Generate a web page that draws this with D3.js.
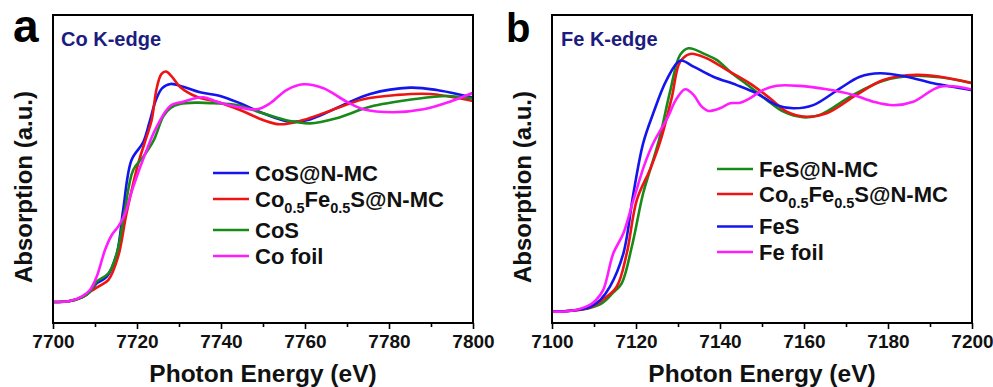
<!DOCTYPE html>
<html>
<head>
<meta charset="utf-8">
<script src="https://cdn.jsdelivr.net/npm/d3@7/dist/d3.min.js"></script>
<style>
  body { margin: 0; background: #fff; }
  svg { display: block; font-family: "Liberation Sans", Arial, sans-serif; }
</style>
</head>
<body>
<div id="chart"></div>
<script>
// =======================
// Data: [photon energy (eV), normalized absorption]
// =======================
const coCoSNMC = [
  [7700, 0], [7704, 0.005], [7707, 0.025], [7708.8, 0.052], [7710.4, 0.095],
  [7712.8, 0.128], [7715.2, 0.247], [7716.7, 0.467], [7718.7, 0.721], [7721.5, 0.812],
  [7723, 0.914], [7724.5, 1.025], [7726, 1.086], [7728, 1.107], [7731, 1.093],
  [7735, 1.065], [7739.8, 1.046], [7744.5, 1.009], [7750, 0.958], [7756.4, 0.915],
  [7761.2, 0.927], [7769.1, 1.0], [7775.5, 1.056], [7785, 1.088], [7791.4, 1.076],
  [7800, 1.038]
];
const coCoFeS = [
  [7700, 0], [7704, 0.005], [7707, 0.025], [7708.8, 0.052], [7710.8, 0.078],
  [7713.2, 0.112], [7715.5, 0.230], [7717.5, 0.450], [7720.3, 0.704], [7722.3, 0.839],
  [7723.5, 0.924], [7724.7, 1.086], [7725.8, 1.157], [7726.9, 1.170], [7728.2, 1.147],
  [7730.2, 1.093], [7734.2, 1.042], [7739, 1.017], [7744.5, 0.975], [7750, 0.924],
  [7754, 0.902], [7759.6, 0.924], [7766, 0.971], [7773.9, 1.029], [7781.8, 1.051],
  [7789.8, 1.056], [7800, 1.020]
];
const coCoS = [
  [7700, 0], [7704, 0.005], [7707, 0.025], [7708.8, 0.052], [7710.4, 0.103],
  [7713.2, 0.146], [7715.2, 0.247], [7717.1, 0.467], [7719.1, 0.670], [7721.5, 0.738],
  [7724, 0.822], [7726.3, 0.944], [7728, 0.985], [7730.2, 1.005], [7734.2, 1.012],
  [7738.2, 1.009], [7743.7, 1.0], [7750, 0.958], [7756.4, 0.919], [7761.2, 0.907],
  [7767.5, 0.933], [7775.5, 0.991], [7785.8, 1.029], [7793.7, 1.046], [7800, 1.033]
];
const coFoil = [
  [7700, 0], [7704, 0.005], [7707, 0.030], [7708.8, 0.061], [7710.4, 0.128],
  [7712.4, 0.265], [7714, 0.340], [7715.6, 0.385], [7717, 0.440], [7719.1, 0.585],
  [7722.3, 0.772], [7724.7, 0.890], [7727.9, 0.995], [7731, 1.017], [7735.8, 1.039],
  [7739, 1.017], [7743.7, 0.991], [7748.5, 0.978], [7751.7, 1.009], [7755.6, 1.076],
  [7759.6, 1.105], [7764.4, 1.085], [7769.9, 1.017], [7773.9, 0.978], [7781, 0.963],
  [7788.2, 0.978], [7794.5, 1.017], [7800, 1.062]
];

const feFeSNMC = [
  [7100, 0], [7105, 0.006], [7109, 0.019], [7112, 0.044], [7114.5, 0.094],
  [7116.6, 0.142], [7119, 0.325], [7121.7, 0.592], [7123.5, 0.719], [7125.5, 0.859],
  [7128.1, 1.099], [7130.5, 1.284], [7132.5, 1.317], [7136.8, 1.284], [7139.2, 1.259],
  [7142.4, 1.200], [7147.1, 1.125], [7151.1, 1.059], [7155.1, 1.0], [7159.8, 0.972],
  [7163.8, 0.984], [7171.7, 1.084], [7178.9, 1.155], [7186, 1.180], [7192.4, 1.172],
  [7200, 1.142]
];
const feCoFeS = [
  [7100, 0], [7105, 0.006], [7109, 0.021], [7112, 0.059], [7115.4, 0.125],
  [7117.8, 0.292], [7120.2, 0.559], [7123.5, 0.719], [7126, 0.867], [7128.5, 1.069],
  [7130.5, 1.249], [7132.9, 1.289], [7136.8, 1.267], [7141.6, 1.209], [7147.1, 1.142],
  [7151.9, 1.067], [7155.9, 1.0], [7160.6, 0.975], [7165.4, 0.992], [7172.5, 1.084],
  [7178.9, 1.159], [7186.8, 1.184], [7192.4, 1.175], [7200, 1.144]
];
const feFeS = [
  [7100, 0], [7105, 0.006], [7109, 0.023], [7111.5, 0.059], [7113.8, 0.125],
  [7117, 0.292], [7119.4, 0.594], [7121.7, 0.842], [7124.1, 0.992], [7127.3, 1.159],
  [7130.5, 1.255], [7133.7, 1.225], [7138.4, 1.175], [7144, 1.133], [7148.7, 1.092],
  [7153.5, 1.033], [7157.5, 1.017], [7162.2, 1.033], [7168.6, 1.117], [7173.3, 1.175],
  [7178.1, 1.192], [7184.4, 1.175], [7190.8, 1.142], [7200, 1.108]
];
const feFoil = [
  [7100, 0], [7105, 0.006], [7109, 0.034], [7110.5, 0.059], [7112.2, 0.109],
  [7114.6, 0.292], [7117, 0.392], [7119.4, 0.559], [7122, 0.734], [7124.1, 0.842],
  [7127.5, 0.969], [7129.5, 1.059], [7131.7, 1.112], [7133.7, 1.084], [7135.5, 1.029],
  [7137.2, 1.004], [7140, 1.017], [7142.4, 1.042], [7144.8, 1.045], [7147.1, 1.067],
  [7150.3, 1.109], [7153.5, 1.130], [7159, 1.129], [7165.4, 1.112], [7171.7, 1.084],
  [7176.5, 1.050], [7181.3, 1.032], [7186, 1.050], [7192.4, 1.125], [7200, 1.111]
];

const coLabels = ["CoS@N-MC", "Co_{0.5}Fe_{0.5}S@N-MC", "CoS", "Co foil"];
const feLabels = ["FeS@N-MC", "Co_{0.5}Fe_{0.5}S@N-MC", "FeS", "Fe foil"];
const coTicks = [7700, 7720, 7740, 7760, 7780, 7800];
const feTicks = [7100, 7120, 7140, 7160, 7180, 7200];

// =======================
// Colours & layout
// =======================
const BLUE = "#1414ee", RED = "#ee1414", GREEN = "#178a17", MAGENTA = "#ff1cff";
const W = 993, H = 387;
const plotTop = 15, plotBottom = 323;

const panels = [
  {
    letter: "a", letterX: 13, letterY: 42, letterSize: 46,
    edge: "Co K-edge", edgeX: 61,
    left: 53, right: 473, xDomain: [7700, 7800], yDomain: [-0.1066, 1.4569],
    ticks: coTicks,
    series: [coCoSNMC, coCoFeS, coCoS, coFoil],
    colors: [BLUE, RED, GREEN, MAGENTA],
    labels: coLabels,
    legX: 213, legYs: [173, 199, 230, 256]
  },
  {
    letter: "b", letterX: 506, letterY: 41.5, letterSize: 40,
    edge: "Fe K-edge", edgeX: 561,
    left: 552, right: 972, xDomain: [7100, 7200], yDomain: [-0.0565, 1.4835],
    ticks: feTicks,
    series: [feFeSNMC, feCoFeS, feFeS, feFoil],
    colors: [GREEN, RED, BLUE, MAGENTA],
    labels: feLabels,
    legX: 717, legYs: [169, 194, 226.5, 252]
  }
];

const svg = d3.select("#chart").append("svg")
  .attr("width", W)
  .attr("height", H);

svg.append("rect").attr("width", W).attr("height", H).attr("fill", "#fff");

// write "Co_{0.5}" style labels with subscripts
function richText(sel, str, size, subSize) {
  const parts = str.split(/(_\{[^}]*\})/).filter(s => s.length);
  let down = false;
  parts.forEach(p => {
    const isSub = p.startsWith("_{");
    const t = sel.append("tspan").text(isSub ? p.slice(2, -1) : p);
    if (isSub) {
      t.attr("font-size", subSize).attr("dy", down ? 0 : 6);
      down = true;
    } else {
      t.attr("font-size", size).attr("dy", down ? -6 : 0);
      down = false;
    }
  });
}

panels.forEach(p => {
  const x = d3.scaleLinear().domain(p.xDomain).range([p.left, p.right]);
  const y = d3.scaleLinear().domain(p.yDomain).range([plotBottom, plotTop]);
  const g = svg.append("g");

  // minor ticks
  const minor = d3.range(p.xDomain[0] + 10, p.xDomain[1], 20);
  g.append("g")
    .attr("transform", `translate(0,${plotBottom})`)
    .call(d3.axisBottom(x).tickValues(minor).tickFormat("").tickSize(4))
    .call(a => a.select(".domain").remove())
    .call(a => a.selectAll("line").attr("stroke", "#000").attr("stroke-width", 1.6));

  // major ticks + labels
  g.append("g")
    .attr("transform", `translate(0,${plotBottom})`)
    .call(d3.axisBottom(x).tickValues(p.ticks).tickFormat(d3.format("d")).tickSize(6).tickPadding(6))
    .call(a => a.select(".domain").remove())
    .call(a => a.selectAll("line").attr("stroke", "#000").attr("stroke-width", 1.6))
    .call(a => a.selectAll("text")
      .attr("fill", "#111")
      .attr("font-size", 19)
      .attr("font-weight", "bold")
      .attr("font-family", "'Liberation Sans', Arial, sans-serif"));

  // curves
  const line = d3.line()
    .x(d => x(d[0]))
    .y(d => y(d[1]))
    .curve(d3.curveCatmullRom.alpha(0.5));

  p.series.forEach((s, i) => {
    g.append("path")
      .datum(s)
      .attr("d", line)
      .attr("fill", "none")
      .attr("stroke", p.colors[i])
      .attr("stroke-width", 2.6)
      .attr("stroke-linejoin", "round");
  });

  // frame
  g.append("rect")
    .attr("x", p.left).attr("y", plotTop)
    .attr("width", p.right - p.left).attr("height", plotBottom - plotTop)
    .attr("fill", "none")
    .attr("stroke", "#000")
    .attr("stroke-width", 2);

  // legend
  p.labels.forEach((lab, i) => {
    const ly = p.legYs[i];
    g.append("line")
      .attr("x1", p.legX).attr("x2", p.legX + 36)
      .attr("y1", ly).attr("y2", ly)
      .attr("stroke", p.colors[i])
      .attr("stroke-width", 2.6);
    const t = g.append("text")
      .attr("x", p.legX + 42)
      .attr("y", ly + 7.5)
      .attr("font-weight", "bold")
      .attr("fill", "#111");
    richText(t, lab, 22, 14.5);
  });

  // edge title
  g.append("text")
    .attr("x", p.edgeX).attr("y", 45.5)
    .attr("font-size", 20)
    .attr("font-weight", "bold")
    .attr("fill", "#1c1c80")
    .text(p.edge);

  // panel letter
  g.append("text")
    .attr("x", p.letterX).attr("y", p.letterY)
    .attr("font-size", p.letterSize)
    .attr("font-weight", "900")
    .attr("fill", "#000")
    .text(p.letter);

  // axis titles
  g.append("text")
    .attr("x", (p.left + p.right) / 2).attr("y", 382)
    .attr("text-anchor", "middle")
    .attr("font-size", 24.5)
    .attr("font-weight", "bold")
    .attr("fill", "#111")
    .text("Photon Energy (eV)");

  g.append("text")
    .attr("transform", `translate(${p.left - 21},187) rotate(-90)`)
    .attr("text-anchor", "middle")
    .attr("font-size", 24)
    .attr("font-weight", "bold")
    .attr("fill", "#111")
    .text("Absorption (a.u.)");
});
</script>
</body>
</html>
